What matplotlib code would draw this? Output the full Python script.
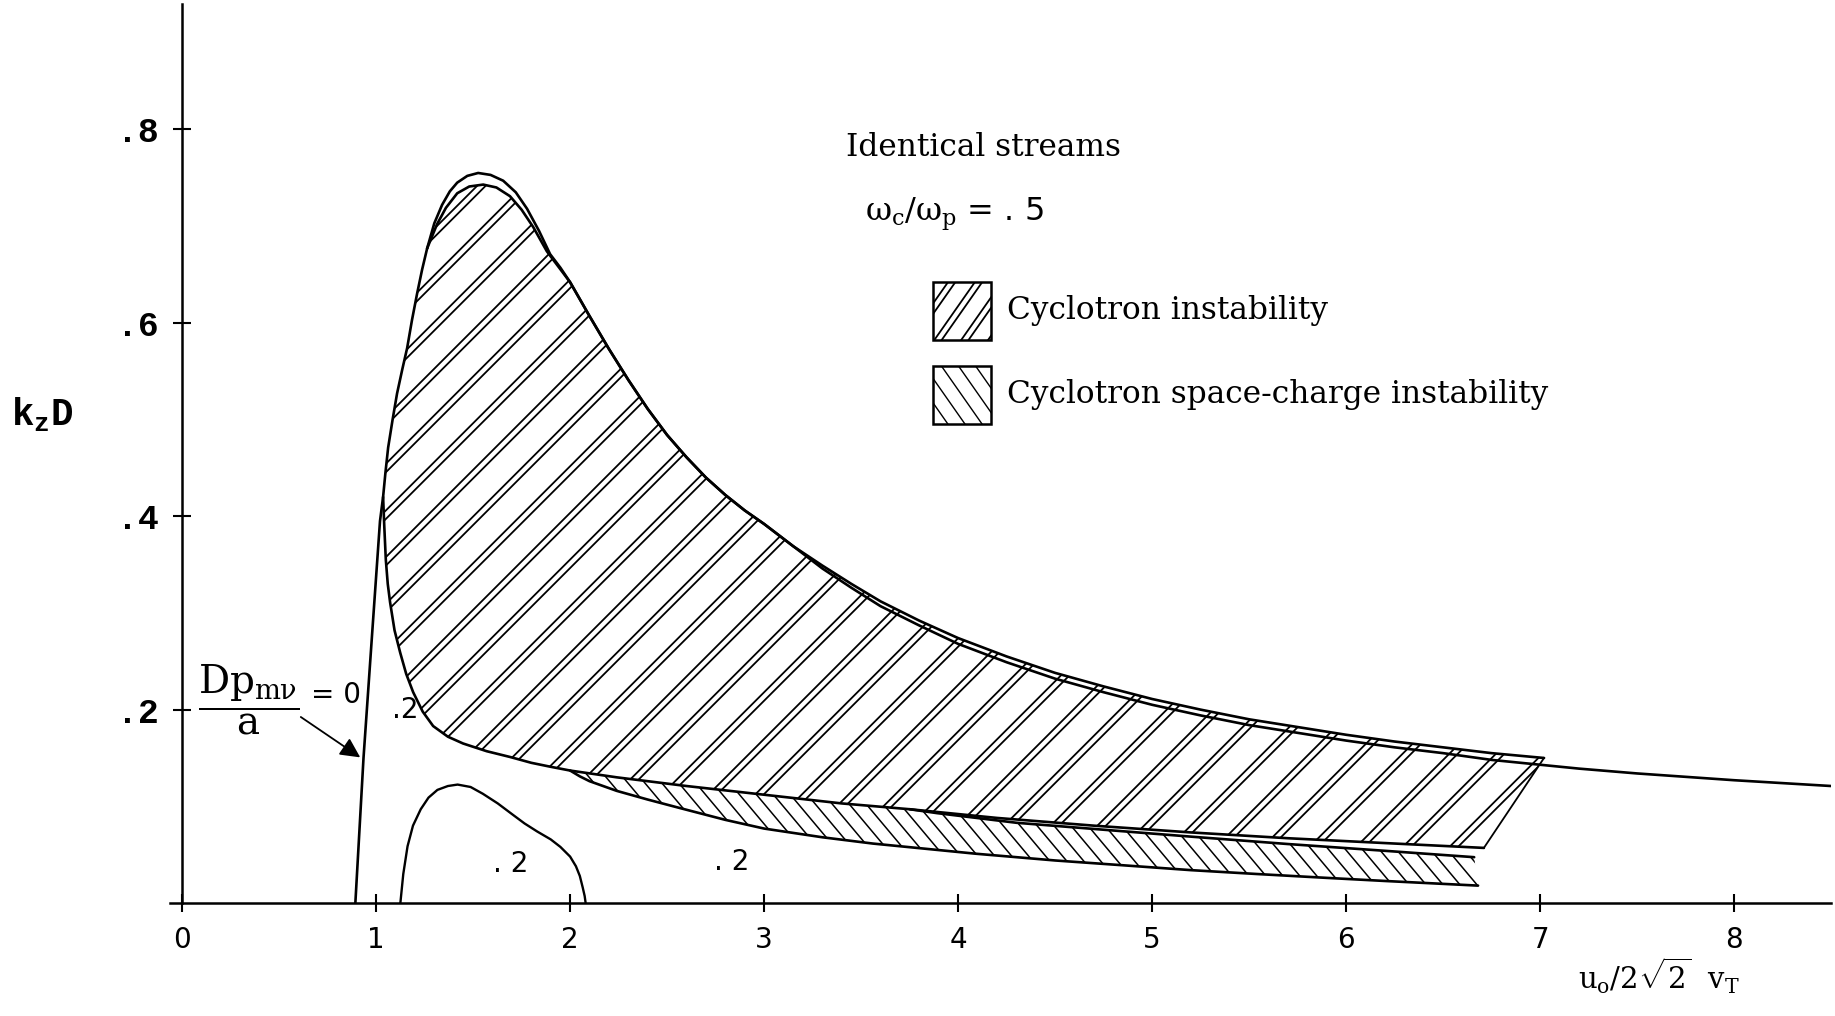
import numpy as np
import matplotlib
matplotlib.use("Agg")
import matplotlib.pyplot as plt
from matplotlib.collections import LineCollection
from matplotlib.patches import Polygon, Rectangle

plt.rcParams["font.family"] = ["DejaVu Serif"]
plt.rcParams["mathtext.fontset"] = "custom"
plt.rcParams["mathtext.rm"] = "DejaVu Serif"
plt.rcParams["mathtext.it"] = "DejaVu Serif"
plt.rcParams["mathtext.tt"] = "Liberation Mono:bold"

# Dp/a = 0 line and the shared left flank of the hump
left_x = [0.893, 0.935, 0.98, 1.02, 1.036, 1.048, 1.062, 1.085, 1.108, 1.135, 1.160, 1.185, 1.211, 1.237, 1.263]
left_y = [0.0, 0.15, 0.28, 0.395, 0.42, 0.445, 0.471, 0.500, 0.527, 0.552, 0.574, 0.603, 0.630, 0.655, 0.677]

# outer (upper) curve of the cyclotron instability region
outer_x = [1.263, 1.30, 1.34, 1.38, 1.418, 1.47, 1.526, 1.59, 1.655, 1.72, 1.778, 1.84, 1.897, 1.95,
           2.0, 2.1, 2.2, 2.3, 2.4, 2.5, 2.6, 2.7, 2.8, 2.9, 3.0, 3.15, 3.3, 3.45, 3.6, 3.8,
           4.0, 4.25, 4.5, 4.75, 5.0, 5.25, 5.5, 5.75, 6.0, 6.25, 6.5, 6.75, 7.02]
outer_y = [0.677, 0.703, 0.722, 0.736, 0.745, 0.752, 0.755, 0.753, 0.747, 0.735, 0.718, 0.695, 0.671, 0.657,
           0.642, 0.607, 0.573, 0.541, 0.511, 0.484, 0.461, 0.440, 0.422, 0.406, 0.392, 0.369, 0.349, 0.330, 0.312, 0.292,
           0.274, 0.255, 0.238, 0.224, 0.211, 0.200, 0.190, 0.182, 0.174, 0.167, 0.161, 0.155, 0.150]

# inner curve, below the outer one at the peak and again to the right
inner_x = [1.263, 1.314, 1.36, 1.418, 1.48, 1.552, 1.62, 1.69, 1.75, 1.81, 1.88,
           2.0, 2.1, 2.2, 2.3, 2.4, 2.5, 2.6, 2.7, 2.8, 2.9, 3.0, 3.15, 3.3, 3.45, 3.6, 3.8,
           4.0, 4.25, 4.5, 4.75, 5.0, 5.25, 5.5, 5.75, 6.0, 6.25, 6.5, 6.75, 7.0, 7.2, 7.5, 8.0, 8.5]
inner_y = [0.677, 0.702, 0.719, 0.734, 0.741, 0.743, 0.740, 0.731, 0.717, 0.699, 0.674,
           0.642, 0.607, 0.573, 0.541, 0.511, 0.484, 0.461, 0.440, 0.422, 0.406, 0.392, 0.369, 0.346, 0.326, 0.307, 0.287,
           0.268, 0.249, 0.232, 0.218, 0.205, 0.194, 0.184, 0.176, 0.168, 0.161, 0.155, 0.148, 0.143, 0.139, 0.134, 0.127, 0.121]

# lower edge of the cyclotron instability region
sep_x = [1.036, 1.042, 1.05, 1.06, 1.072, 1.095, 1.124, 1.155, 1.191, 1.24, 1.294, 1.37, 1.448, 1.57,
         1.691, 1.8, 1.897, 2.0, 2.24, 2.6, 3.0, 3.4, 3.75, 4.2, 4.7, 5.2, 5.7, 6.2, 6.71]
sep_y = [0.42, 0.39, 0.355, 0.330, 0.311, 0.282, 0.259, 0.237, 0.218, 0.198, 0.183, 0.172, 0.165, 0.157,
         0.151, 0.145, 0.141, 0.137, 0.130, 0.121, 0.112, 0.103, 0.097, 0.088, 0.080, 0.073, 0.067, 0.062, 0.057]

# space-charge instability region: upper edge after the split, lower edge
sct_x = [3.75, 3.89, 4.3, 4.8, 5.21, 5.7, 6.2, 6.66]
sct_y = [0.097, 0.093, 0.083, 0.075, 0.0685, 0.061, 0.054, 0.0474]
scb_x = [2.0, 2.05, 2.1, 2.17, 2.24, 2.4, 2.57, 2.8, 3.0, 3.3, 3.56, 4.09, 4.5, 4.88, 5.2, 5.54, 5.9, 6.2, 6.68]
scb_y = [0.137, 0.131, 0.126, 0.121, 0.116, 0.107, 0.098, 0.086, 0.077, 0.068, 0.0615, 0.051, 0.044, 0.0386,
         0.034, 0.030, 0.026, 0.0228, 0.018]

# small closed contour near the axis
bump_x = [1.125, 1.14, 1.162, 1.19, 1.23, 1.27, 1.316, 1.37, 1.42, 1.487, 1.55, 1.627, 1.70, 1.765,
          1.83, 1.9, 1.95, 2.0, 2.03, 2.05, 2.065, 2.075, 2.08]
bump_y = [0.0, 0.03, 0.0587, 0.080, 0.097, 0.109, 0.117, 0.121, 0.1225, 0.120, 0.113, 0.103, 0.092, 0.0823,
          0.074, 0.0658, 0.058, 0.048, 0.038, 0.028, 0.016, 0.0072, 0.0]

x_ticks = [0, 1, 2, 3, 4, 5, 6, 7, 8]
y_ticks = [0.2, 0.4, 0.6, 0.8]
y_tick_labels = [".2", ".4", ".6", ".8"]
contour_labels = [(1.08, 0.2, ".2"), (1.60, 0.04, ". 2"), (2.74, 0.042, ". 2")]

fig = plt.figure(figsize=(18.35, 10.16), dpi=100)
ax = fig.add_axes([0.0929, 0.1112, 0.9050, 0.8851])
ax.set_xlim(-0.06, 8.5)
ax.set_ylim(0, 0.93)
for s in ["top", "right"]:
    ax.spines[s].set_visible(False)
ax.spines["left"].set_position(("data", 0))
ax.spines["left"].set_linewidth(1.8)
ax.spines["bottom"].set_linewidth(1.8)

ax.set_xticks(x_ticks)
ax.set_xticklabels([str(t) for t in x_ticks], fontfamily="DejaVu Sans", fontsize=20)
ax.set_yticks(y_ticks)
ax.set_yticklabels(y_tick_labels, fontfamily="Liberation Mono", fontweight="bold", fontsize=25)
ax.tick_params(axis="both", direction="inout", length=13, width=1.5, pad=10)

W, H = ax.bbox.width, ax.bbox.height


def hatch(patch, angle, spacing, gap=None, lw=1.2):
    """hatch lines in pixel space, clipped to the patch"""
    a = np.deg2rad(angle)
    d = np.array([np.cos(a), np.sin(a)])
    n = np.array([-np.sin(a), np.cos(a)])
    L = np.hypot(W, H)
    c = np.array([W / 2, H / 2])
    segs = []
    for off in np.arange(-L, L, spacing):
        offs = [off] if gap is None else [off, off + gap]
        for o in offs:
            p = c + n * o
            p0, p1 = p - d * L, p + d * L
            segs.append([(p0[0] / W, p0[1] / H), (p1[0] / W, p1[1] / H)])
    lc = LineCollection(segs, colors="black", linewidths=lw, transform=ax.transAxes)
    ax.add_collection(lc)
    lc.set_clip_path(patch)


# cyclotron instability region
ci_x = left_x[4:] + inner_x[1:11] + outer_x[12:] + sep_x[::-1]
ci_y = left_y[4:] + inner_y[1:11] + outer_y[12:] + sep_y[::-1]
ci = Polygon(np.column_stack([ci_x, ci_y]), closed=True, fill=False, edgecolor="none")
ax.add_patch(ci)
hatch(ci, 45, 33, gap=6, lw=1.3)

# space-charge region
k = sep_x.index(2.0)
sc_x = sep_x[k:-6] + sct_x + scb_x[::-1]
sc_y = sep_y[k:-6] + sct_y + scb_y[::-1]
sc = Polygon(np.column_stack([sc_x, sc_y]), closed=True, fill=False, edgecolor="none")
ax.add_patch(sc)
hatch(sc, -50, 13, lw=1.1)

lk = dict(color="black", lw=1.9, solid_capstyle="round", solid_joinstyle="round")
ax.plot(left_x, left_y, **lk)
ax.plot(outer_x, outer_y, **lk)
ax.plot(inner_x, inner_y, **lk)
ax.plot(sep_x, sep_y, **lk)
ax.plot(sct_x, sct_y, **lk)
ax.plot(scb_x, scb_y, **lk)
ax.plot(bump_x, bump_y, color="black", lw=1.7, solid_joinstyle="round")
ax.plot([outer_x[-1], sep_x[-1]], [outer_y[-1], sep_y[-1]], color="black", lw=1.3)

# annotations
ax.annotate("", xy=(0.93, 0.149), xytext=(0.60, 0.194),
            arrowprops=dict(arrowstyle="-|>", color="black", lw=1.3, mutation_scale=30))
ax.text(0.08, 0.21, r"$\dfrac{Dp_{m\nu}}{a}$", fontsize=28, va="center", ha="left")
ax.text(0.665, 0.215, "= 0", fontsize=20, va="center", ha="left", fontfamily="DejaVu Sans")
for cx, cy, s in contour_labels:
    ax.text(cx, cy, s, fontsize=20, va="center", ha="left", fontfamily="DejaVu Sans")

ax.text(3.42, 0.781, "Identical streams", fontsize=22.5, va="center", ha="left")
ax.text(3.52, 0.712, r"$\omega_c/\omega_p$ = . 5", fontsize=23, va="center", ha="left",
        fontfamily="DejaVu Sans")

legend_items = ["Cyclotron instability", "Cyclotron space-charge instability"]
legend_y = [0.582, 0.495]
for lab, yb, ang, sp, gp, lw in zip(legend_items, legend_y, [55, -55], [22, 14], [6, None], [1.3, 1.0]):
    box = Rectangle((3.87, yb), 0.30, 0.06, fill=False, edgecolor="black", lw=1.8)
    ax.add_patch(box)
    hatch(box, ang, sp, gap=gp, lw=lw)
    ax.text(4.25, yb + 0.031, lab, fontsize=22.5, va="center", ha="left")

fig.text(0.006, 0.592, r"$\mathtt{k_zD}$", fontsize=27, va="center", ha="left")
fig.text(0.860, 0.040, r"$u_o/2\sqrt{2}\ \ v_T$", fontsize=21, va="center", ha="left")

fig.savefig("out.png", dpi=100)
